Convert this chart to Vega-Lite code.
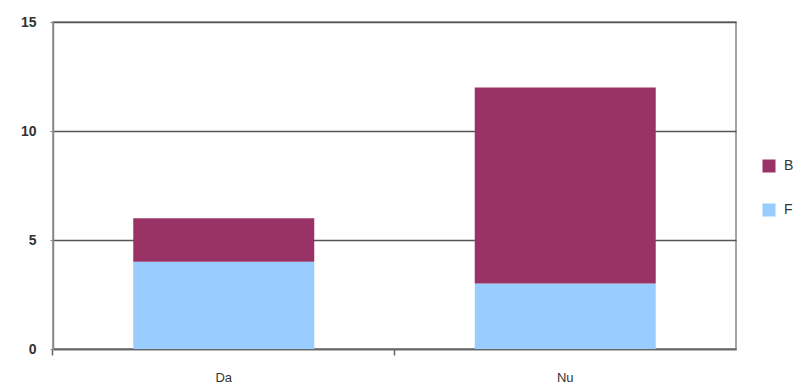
{
  "$schema": "https://vega.github.io/schema/vega-lite/v6.json",
  "autosize": {"type": "none"},
  "padding": {"left": 53, "top": 22, "right": 65, "bottom": 41},
  "width": 683,
  "height": 327,
  "background": "white",
  "config": {
    "view": {"stroke": "#888888", "strokeWidth": 1.5},
    "font": "Liberation Sans"
  },
  "data": {
    "values": [
      {"cat": "Da", "series": "F", "value": 4},
      {"cat": "Da", "series": "B", "value": 2},
      {"cat": "Nu", "series": "F", "value": 3},
      {"cat": "Nu", "series": "B", "value": 9}
    ]
  },
  "mark": {"type": "bar"},
  "encoding": {
    "x": {
      "field": "cat",
      "type": "nominal",
      "scale": {"paddingInner": 0.47, "paddingOuter": 0.235},
      "axis": {
        "title": null,
        "labelAngle": 0,
        "bandPosition": -0.4434,
        "labelFont": "Liberation Sans",
        "labelFontSize": 13,
        "labelColor": "#333333",
        "labelPadding": 16,
        "labelBaseline": "top",
        "tickSize": 6,
        "tickColor": "#666666",
        "tickWidth": 1.5,
        "domainColor": "#666666",
        "domainWidth": 1.5,
        "grid": false
      }
    },
    "y": {
      "field": "value",
      "type": "quantitative",
      "aggregate": "sum",
      "stack": "zero",
      "scale": {"domain": [0, 15], "nice": false},
      "axis": {
        "title": null,
        "values": [0, 5, 10, 15],
        "labelFont": "Liberation Sans",
        "labelFontWeight": "bold",
        "labelFontSize": 14,
        "labelColor": "#333333",
        "labelPadding": 14,
        "ticks": true,
        "tickSize": 3,
        "tickColor": "#888888",
        "domainColor": "#888888",
        "domainWidth": 1.5,
        "grid": true,
        "gridColor": "#555555",
        "gridWidth": 1.3,
        "gridOpacity": 1
      }
    },
    "color": {
      "field": "series",
      "type": "nominal",
      "scale": {"domain": ["B", "F"], "range": ["#993366", "#99CCFF"]},
      "legend": {
        "title": null,
        "orient": "none",
        "legendX": 709,
        "legendY": 137,
        "symbolType": "square",
        "symbolSize": 169,
        "symbolStrokeWidth": 0,
        "labelFont": "Liberation Sans",
        "labelFontSize": 14,
        "labelColor": "#333333",
        "rowPadding": 30,
        "labelOffset": 8
      }
    },
    "order": {"field": "series", "sort": "descending"}
  }
}
